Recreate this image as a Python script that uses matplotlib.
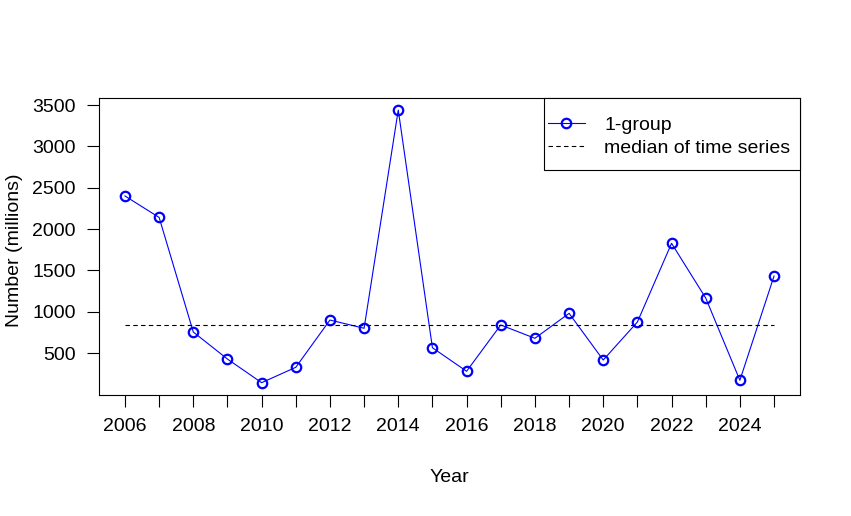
import matplotlib
matplotlib.use("Agg")
import matplotlib.pyplot as plt
from matplotlib.lines import Line2D
from matplotlib.patches import Rectangle

plt.rcParams['font.family'] = ['Liberation Sans', 'DejaVu Sans']

years = list(range(2006, 2026))
values = [2400, 2140, 754, 427, 141, 327, 899, 799, 3439, 564,
          279, 839, 678, 980, 415, 875, 1827, 1165, 170, 1431]
median_value = 839
series_label = "1-group"
median_label = "median of time series"
y_ticks = [500, 1000, 1500, 2000, 2500, 3000, 3500]
x_label_years = list(range(2006, 2026, 2))

W, H = 851, 516
FS = 14
fig = plt.figure(figsize=(W / 100, H / 100), dpi=100)
ax = fig.add_axes([99 / W, 1 - 395 / H, (800 - 99) / W, (395 - 98) / H])

mk = dict(marker='o', markersize=6.8, markerfacecolor='none',
          markeredgecolor='blue', markeredgewidth=1.6)
ax.plot(years, values, color='blue', linewidth=0.8, **mk)
ax.plot([years[0], years[-1]], [median_value, median_value], color='black',
        linewidth=0.8, linestyle=(0, (4, 3)))

ax.set_xlim(2005.24, 2025.76)
ax.set_ylim(-8, 3585)

ax.set_xticks(years)
ax.set_xticklabels([str(y) if y in x_label_years else '' for y in years])
ax.set_yticks(y_ticks)
ax.set_yticklabels([str(v) for v in y_ticks])
ax.tick_params(axis='both', direction='out', length=8.6, width=0.8,
               labelsize=FS, color='black')
ax.tick_params(axis='y', pad=8)
ax.tick_params(axis='x', pad=8)
for s in ax.spines.values():
    s.set_linewidth(0.8)
    s.set_color('black')

fig.text(15 / W, 1 - 250 / H, "Number (millions)", rotation=90,
         ha='center', va='center', fontsize=FS)
fig.text(449 / W, 1 - 477 / H, "Year", ha='center', va='center', fontsize=FS)

# legend box (R-style)
bx0 = (544 - 99) / 701
by0 = (395 - 170) / 297
ax.add_patch(Rectangle((bx0, by0), 1 - bx0, 1 - by0, transform=ax.transAxes,
                       facecolor='white', edgecolor='black', linewidth=0.8,
                       zorder=4.5, clip_on=False))

handles = [
    Line2D([], [], color='blue', linewidth=0.8, **mk),
    Line2D([], [], color='black', linewidth=0.8, linestyle=(0, (4, 3))),
]
leg = ax.legend(handles, [series_label, median_label], loc='center left',
                bbox_to_anchor=((548 - 99) / 701, (395 - 136.5) / 297),
                borderaxespad=0, frameon=False, fontsize=FS,
                handlelength=1.9, handletextpad=1.0, borderpad=0,
                labelspacing=0.25)
leg.set_zorder(5)

fig.savefig("out.png", dpi=100)
